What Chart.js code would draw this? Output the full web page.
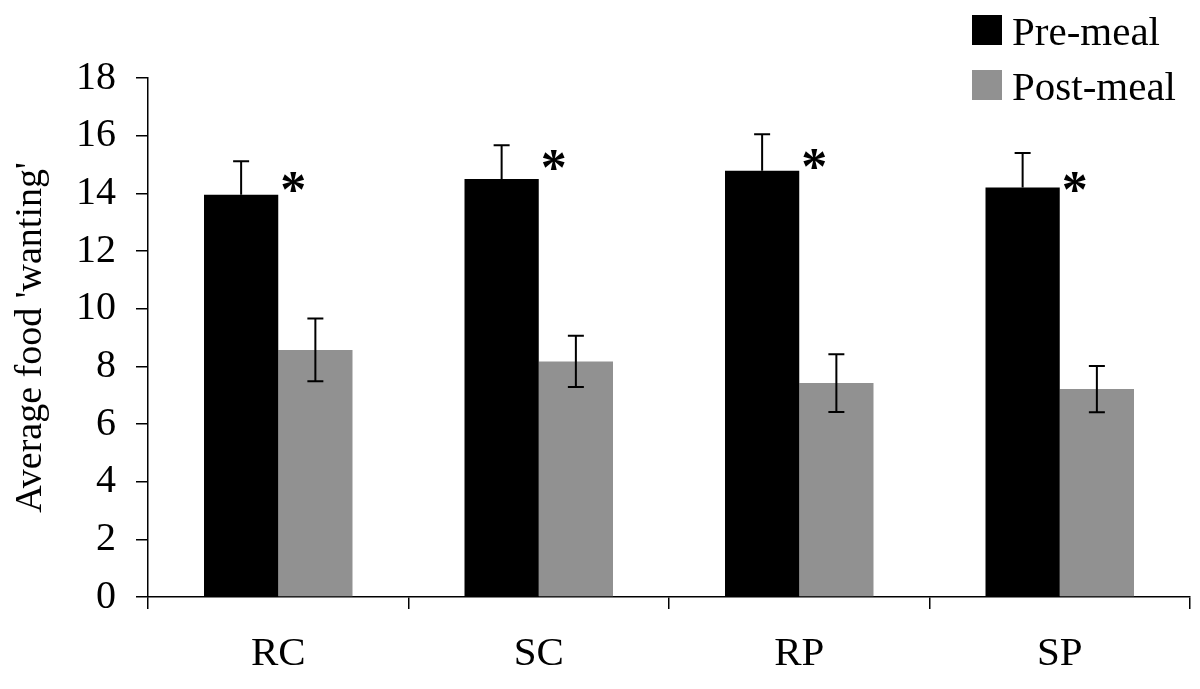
<!DOCTYPE html>
<html lang="en">
<head>
<meta charset="UTF-8">
<title>Average food wanting</title>
<script src="https://cdn.jsdelivr.net/npm/chart.js@4.4.0/dist/chart.umd.min.js"></script>
<style>
  html, body { margin: 0; padding: 0; background: #fff; }
</style>
</head>
<body>
<canvas id="chart" width="1200" height="689"></canvas>

<script>
const conditions = ['RC', 'SC', 'RP', 'SP']
const preMeal = [13.95, 14.5, 14.78, 14.2]
const postMeal = [8.57, 8.17, 7.42, 7.21]
// standard errors (pre-meal drawn upwards only)
const preErr = [1.16, 1.17, 1.27, 1.2]
const postErr = [1.09, 0.89, 1.0, 0.8]
// height of the significance asterisks, in y units
const starLevel = [14.38, 15.16, 15.2, 14.4]
const yTicks = [0, 2, 4, 6, 8, 10, 12, 14, 16, 18]
const seriesNames = ['Pre-meal', 'Post-meal']
const seriesColors = ['#000000', '#919191']

const serif = 'Liberation Serif, Times New Roman, serif'

const errorBars = {
    id: 'errorBars',
    afterDatasetsDraw(chart) {
        const ctx = chart.ctx
        const y = chart.scales.y
        ctx.save()
        ctx.strokeStyle = '#000'
        ctx.lineWidth = 2
        chart.data.datasets.forEach((ds, i) => {
            const meta = chart.getDatasetMeta(i)
            meta.data.forEach((bar, j) => {
                const v = ds.data[j]
                const e = ds.errors[j]
                const top = y.getPixelForValue(v + e)
                const bottom = ds.errorBoth ? y.getPixelForValue(v - e) : y.getPixelForValue(v)
                ctx.beginPath()
                ctx.moveTo(bar.x, top)
                ctx.lineTo(bar.x, bottom)
                ctx.moveTo(bar.x - 8, top)
                ctx.lineTo(bar.x + 8, top)
                if (ds.errorBoth) {
                    ctx.moveTo(bar.x - 8, bottom)
                    ctx.lineTo(bar.x + 8, bottom)
                }
                ctx.stroke()
            })
        })
        ctx.restore()
    }
}

const stars = {
    id: 'stars',
    afterDatasetsDraw(chart) {
        const ctx = chart.ctx
        const y = chart.scales.y
        const meta = chart.getDatasetMeta(0)
        ctx.save()
        ctx.fillStyle = '#000'
        ctx.font = 'bold 52px ' + serif
        ctx.textAlign = 'center'
        ctx.textBaseline = 'alphabetic'
        const m = ctx.measureText('*')
        const shift = (m.actualBoundingBoxAscent - m.actualBoundingBoxDescent) / 2
        meta.data.forEach((bar, j) => {
            const px = bar.x + bar.width / 2 + 15
            const py = y.getPixelForValue(starLevel[j])
            ctx.fillText('*', px, py + shift)
        })
        ctx.restore()
    }
}

const boxLegend = {
    id: 'boxLegend',
    afterDraw(chart) {
        const ctx = chart.ctx
        ctx.save()
        ctx.font = '41px ' + serif
        ctx.textAlign = 'left'
        ctx.textBaseline = 'alphabetic'
        seriesNames.forEach((name, i) => {
            const base = 45 + i * 55
            ctx.fillStyle = seriesColors[i]
            ctx.fillRect(972, base - 30, 30, 30)
            ctx.fillStyle = '#000'
            ctx.fillText(name, 1012, base)
        })
        ctx.restore()
    }
}

const ctx = document.getElementById('chart').getContext('2d')

const myChart = new Chart(ctx, {
    type: 'bar',
    data: {
        labels: conditions,
        datasets: [{
            label: seriesNames[0],
            data: preMeal,
            errors: preErr,
            errorBoth: false,
            backgroundColor: seriesColors[0],
            borderWidth: 0
        }, {
            label: seriesNames[1],
            data: postMeal,
            errors: postErr,
            errorBoth: true,
            backgroundColor: seriesColors[1],
            borderWidth: 0
        }]
    },
    options: {
        responsive: false,
        animation: false,
        categoryPercentage: 0.57,
        barPercentage: 1.0,
        layout: { padding: { top: 78, right: 10, left: 0, bottom: 0 } },
        plugins: {
            legend: { display: false },
            tooltip: { enabled: false }
        },
        scales: {
            x: {
                ticks: { color: '#000', font: { family: serif, size: 41 }, padding: 21 },
                grid: { offset: true, drawOnChartArea: false, drawTicks: true, tickLength: 12, color: '#000', lineWidth: 1.5 },
                border: { color: '#000', width: 1.5 },
                afterFit: s => { s.height = 92 }
            },
            y: {
                min: 0,
                max: 18,
                afterBuildTicks: axis => { axis.ticks = yTicks.map(v => ({ value: v })) },
                ticks: { color: '#000', font: { family: serif, size: 40 }, padding: 20 },
                grid: { drawOnChartArea: false, drawTicks: true, tickLength: 12, color: '#000', lineWidth: 1.5 },
                border: { color: '#000', width: 1.5 },
                title: {
                    display: true,
                    text: "Average food 'wanting'",
                    color: '#000',
                    font: { family: serif, size: 38 },
                    padding: { top: 8, bottom: 0 }
                },
                afterFit: s => { s.width = 148 }
            }
        }
    },
    plugins: [errorBars, stars, boxLegend]
})
</script>
</body>
</html>
